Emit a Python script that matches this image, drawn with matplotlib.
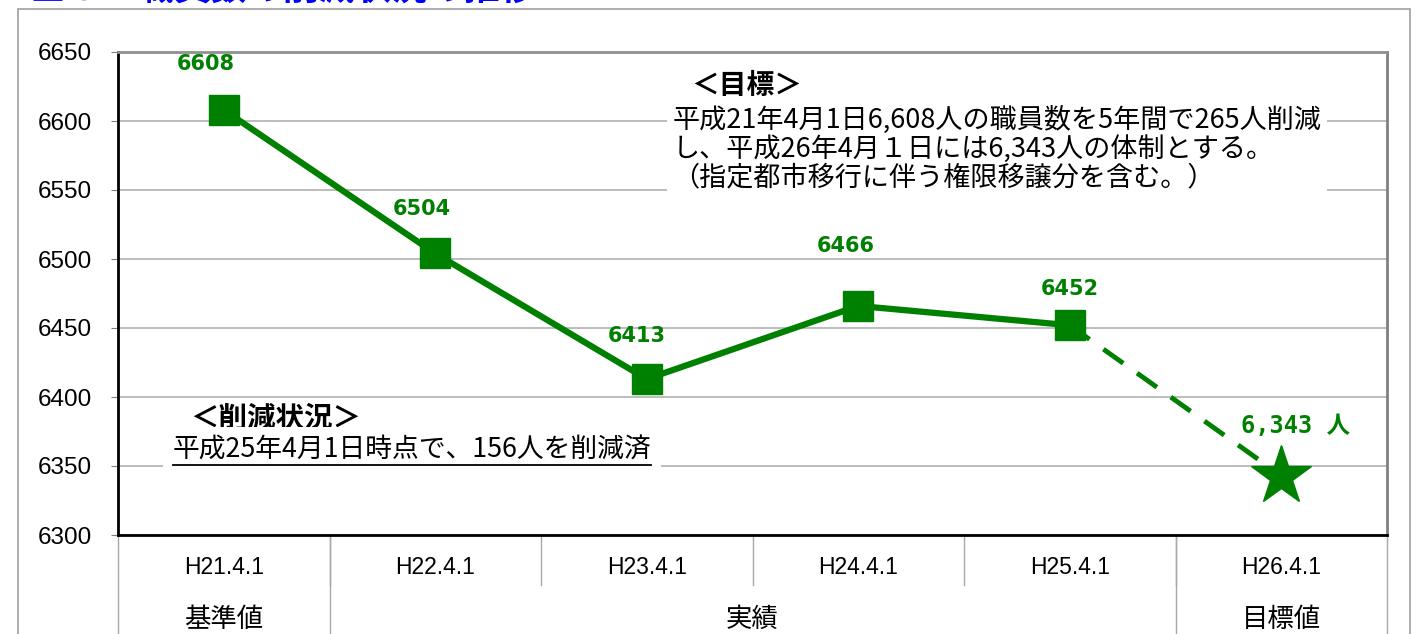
import matplotlib
matplotlib.use("Agg")
import matplotlib.pyplot as plt
from matplotlib.patches import Rectangle
from matplotlib.lines import Line2D
import matplotlib.transforms as mtransforms

# data
dates = ["H21.4.1", "H22.4.1", "H23.4.1", "H24.4.1", "H25.4.1", "H26.4.1"]
staff = [6608, 6504, 6413, 6466, 6452]
target = 6343
groups = ["基準値", "実績", "目標値"]
group_span = [(0, 0), (1, 4), (5, 5)]
# label offsets in points (dx, dy) above each marker, as placed in the original
label_off = [(-13, 26), (-10, 25), (-7, 24), (-9, 36), (0, 19)]

green = "#008000"
jp = ["Noto Sans CJK JP", "DejaVu Sans"]

fig = plt.figure(figsize=(14.2, 6.34), dpi=100)
ax = fig.add_axes([118/1420, 1-535/634, (1387-118)/1420, (535-52)/634])

x = list(range(len(dates)))
ax.plot(x[:5], staff, color=green, lw=4.5, marker="s", ms=21, zorder=5)
ax.plot(x[4:6], [staff[-1], target], color=green, lw=3.5, ls=(0, (5, 3.5)), zorder=4)
ax.plot([x[5]], [target], color=green, marker="*", ms=45, ls="none", zorder=5)

for i, v in enumerate(staff):
    ax.annotate(str(v), (x[i], v), xytext=label_off[i], textcoords="offset points",
                ha="center", va="bottom", color=green, fontsize=15, fontweight="bold",
                family="DejaVu Sans")
ax.annotate(f"{target:,} 人", (x[5], target), xytext=(10, 27), textcoords="offset points",
            ha="center", va="bottom", color=green, fontsize=17, fontweight="bold",
            family=["DejaVu Sans Mono", "Noto Sans CJK JP"])

ax.set_xlim(-0.5, 5.5)
ax.set_ylim(6300, 6650)
ax.set_yticks(range(6300, 6651, 50))
ax.yaxis.grid(True, color="#b0b0b0", lw=1.2)
ax.set_axisbelow(True)
ax.tick_params(axis="y", length=5, color="#808080", labelsize=17.5, pad=14)
for t in ax.get_yticklabels():
    t.set_family("Liberation Sans")
ax.set_xticks([])
ax.spines["left"].set_color("black")
ax.spines["bottom"].set_color("black")
ax.spines["top"].set_color("#909090")
ax.spines["right"].set_color("#808080")
for s in ax.spines.values():
    s.set_linewidth(2)

# category table below the axis
trans = mtransforms.blended_transform_factory(ax.transData, ax.transAxes)
row = 50/483
for i, d in enumerate(dates):
    ax.text(x[i], -row/2 - 0.016, d, transform=trans, ha="center", va="center",
            fontsize=16.5, family="Liberation Sans")
for b in [0.5, 1.5, 2.5, 3.5, 4.5]:
    ax.add_line(Line2D([b, b], [0, -row], transform=trans, color="#a8a8a8", lw=1, clip_on=False))
for b in [-0.5, 0.5, 4.5, 5.5]:
    ax.add_line(Line2D([b, b], [0, -0.3], transform=trans, color="#a8a8a8", lw=1, clip_on=False))
for g, (a, b) in zip(groups, group_span):
    ax.text((x[a] + x[b]) / 2, -row - 0.072, g, transform=trans, ha="center", va="center",
            fontsize=19, family=jp)

# notes
ax.text(0.452, 0.93, "＜目標＞", transform=ax.transAxes, fontsize=20, fontweight="bold",
        family=jp, va="center")
ax.text(0.437, 0.80,
        "平成21年4月1日6,608人の職員数を5年間で265人削減\n"
        "し、平成26年4月１日には6,343人の体制とする。\n"
        "（指定都市移行に伴う権限移譲分を含む。）",
        transform=ax.transAxes, fontsize=19.5, family=jp, va="center", linespacing=1.08,
        bbox=dict(facecolor="white", edgecolor="none", pad=4), zorder=3)
ax.text(0.057, 0.24, "＜削減状況＞", transform=ax.transAxes, fontsize=20.5, fontweight="bold",
        family=jp, va="center", zorder=3)
note = ax.text(0.043, 0.175, "平成25年4月1日時点で、156人を削減済", transform=ax.transAxes,
               fontsize=19.3, family=jp, va="center",
               bbox=dict(facecolor="white", edgecolor="none", pad=7), zorder=3)

# outer frame and cut-off title
fig.add_artist(Rectangle((18/1420, -0.1), (1410-18)/1420, 1.1 - 9/634, transform=fig.transFigure,
                         fill=False, edgecolor="#a0a0a0", lw=1.2))
fig.text(30/1420, 1 - 9/634, "■３　職員数の削減状況の推移", color="#0000ff", fontsize=26,
         fontweight="bold", family=jp, va="bottom")

# underline for the status note
fig.canvas.draw()
bb = note.get_window_extent()
yl = bb.y0 - 1
fig.add_artist(Line2D([bb.x0/1420, bb.x1/1420], [yl/634, yl/634], transform=fig.transFigure,
                      color="black", lw=1.3))

fig.savefig("out.png", dpi=100)
